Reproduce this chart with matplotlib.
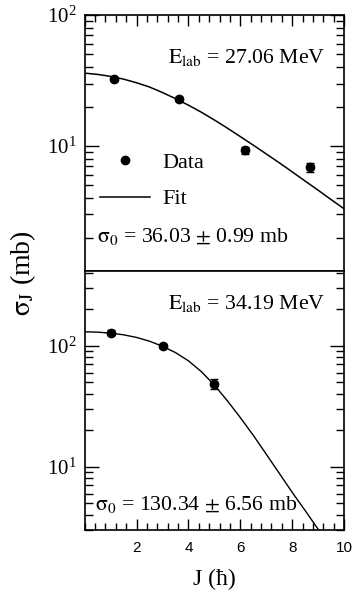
import numpy as np
import matplotlib
matplotlib.use("Agg")
import matplotlib.pyplot as plt
from matplotlib.ticker import MultipleLocator, LogLocator, LogFormatterMathtext, NullFormatter
from matplotlib.lines import Line2D

plt.rcParams['font.family'] = ['Liberation Serif', 'DejaVu Serif']
plt.rcParams['mathtext.fontset'] = 'stix'

# upper panel, E_lab = 27.06 MeV
j_data_27 = [1.14, 3.63, 6.17, 8.69]
sig_data_27 = [32.6, 22.9, 9.3, 6.9]
err_data_27 = [1.0, 0.9, 0.6, 0.55]
j_fit_27 = [0, 0.5, 1, 1.5, 2, 2.5, 3, 3.5, 4, 4.5, 5,
            5.5, 6, 6.5, 7, 7.5, 8, 8.5, 9, 9.5, 10]
sig_fit_27 = [36.0, 35.2, 34.0, 32.4, 30.4, 28.2, 25.6, 23.0, 20.5, 18.1, 15.8,
              13.7, 11.8, 10.15, 8.7, 7.45, 6.35, 5.4, 4.6, 3.9, 3.32]

# lower panel, E_lab = 34.19 MeV
j_data_34 = [1, 3, 5]
sig_data_34 = [128, 99.5, 48.5]
err_data_34 = [6, 3, 5]
j_fit_34 = [0, 0.5, 1, 1.5, 2, 2.5, 3, 3.5, 4, 4.5, 5,
            5.5, 6, 6.5, 7, 7.5, 8, 8.5, 9, 9.5]
sig_fit_34 = [130.3, 129.4, 127.0, 123.0, 117.0, 108.9, 98.9, 87.7, 75.0, 61.0, 47.3,
              35.1, 25.5, 18.2, 12.7, 8.85, 6.15, 4.35, 3.05, 2.15]

W, H = 353, 604
fig = plt.figure(figsize=(W/100, H/100), dpi=100)
ax1 = fig.add_axes([0.240, 0.5513, 0.7345, 0.4238])
ax2 = fig.add_axes([0.240, 0.1225, 0.7345, 0.4288])

def style_axis(ax, ylim, top):
    ax.set_yscale('log')
    ax.set_xlim(0, 10)
    ax.set_ylim(*ylim)
    ax.xaxis.set_major_locator(MultipleLocator(2))
    ax.xaxis.set_minor_locator(MultipleLocator(0.4))
    ax.yaxis.set_major_locator(LogLocator(base=10))
    ax.yaxis.set_minor_locator(LogLocator(base=10, subs=np.arange(2, 10)))
    ax.yaxis.set_major_formatter(LogFormatterMathtext())
    ax.yaxis.set_minor_formatter(NullFormatter())
    ax.tick_params(axis='both', which='both', direction='in', width=1.0)
    ax.tick_params(axis='y', which='major', length=10, left=True, right=True, labelsize=15, pad=6)
    ax.tick_params(axis='y', which='minor', length=6, left=True, right=True)
    ax.tick_params(axis='x', which='major', length=8, top=top, bottom=not top)
    ax.tick_params(axis='x', which='minor', length=5, top=top, bottom=not top)
    for sp in ax.spines.values():
        sp.set_linewidth(1.2)

style_axis(ax1, (1.11, 100), True)
style_axis(ax2, (3.0, 414), False)
ax1.tick_params(axis='x', labelbottom=False, labeltop=False)
ax2.tick_params(axis='x', labelsize=11, pad=8)
ax2.set_xticks([2, 4, 6, 8, 10])
ax2.set_xticklabels(['2', '4', '6', '8', '10'], family='Liberation Sans')

# upper panel
ax1.plot(j_fit_27, sig_fit_27, color='black', lw=1.1)
ax1.errorbar(j_data_27, sig_data_27, yerr=err_data_27, fmt='o', color='black',
             ms=6, capsize=3, elinewidth=1, capthick=1)
ax1.text(0.927, 0.836, r'$\mathrm{E_{lab}}$ = 27.06 MeV', transform=ax1.transAxes,
         ha='right', va='center', fontsize=15.7)
ax1.text(0.047, 0.133, r'$\mathrm{\sigma_0}$ = 36.03 $\pm$ 0.99 mb', transform=ax1.transAxes,
         ha='left', va='center', fontsize=15.7)
handles = [Line2D([], [], ls='none', marker='o', color='black', ms=6),
           Line2D([], [], color='black', lw=1.1)]
ax1.legend(handles, ['Data', 'Fit'], loc='upper left', bbox_to_anchor=(0.059, 0.463),
           frameon=False, fontsize=16, handlelength=2.25, handletextpad=0.54,
           labelspacing=0.71, borderpad=0, borderaxespad=0)

# lower panel
ax2.plot(j_fit_34, sig_fit_34, color='black', lw=1.0)
ax2.errorbar(j_data_34, sig_data_34, yerr=err_data_34, fmt='o', color='black',
             ms=6, capsize=3, elinewidth=1, capthick=1)
ax2.text(0.927, 0.876, r'$\mathrm{E_{lab}}$ = 34.19 MeV', transform=ax2.transAxes,
         ha='right', va='center', fontsize=15.7)
ax2.text(0.04, 0.097, r'$\mathrm{\sigma_0}$ = 130.34 $\pm$ 6.56 mb', transform=ax2.transAxes,
         ha='left', va='center', fontsize=15.7)

ax2.set_xlabel('J (ħ)', fontsize=17, labelpad=10)
fig.text(0.065, 1 - 273/604, r'$\mathrm{\sigma_J}$ (mb)', rotation=90, ha='center',
         va='center', fontsize=20)

fig.savefig('out.png', dpi=100)
